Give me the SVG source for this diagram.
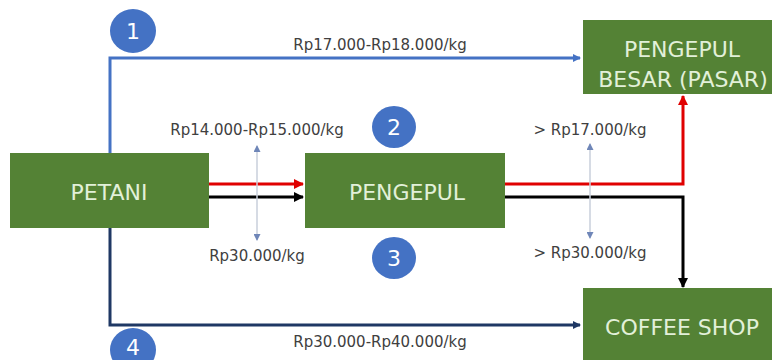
<svg xmlns="http://www.w3.org/2000/svg" width="772" height="360" viewBox="0 0 772 360">
<defs>
<style>
.box{fill:#548235}
.nt{font-family:"DejaVu Sans",Verdana,sans-serif;font-size:22px;fill:#e2f0d9;text-anchor:middle}
.lb{font-family:"DejaVu Sans",Verdana,sans-serif;font-size:15px;fill:#404040;text-anchor:middle}
.num{fill:#4472c4}
.nn{font-family:"DejaVu Sans",Verdana,sans-serif;font-size:22px;fill:#ffffff;text-anchor:middle}
.ln{fill:none;stroke-width:3}
</style>
<marker id="mb" markerWidth="8" markerHeight="8" refX="7" refY="4" orient="auto" markerUnits="userSpaceOnUse"><path d="M0,0 L8,4 L0,8 Z" fill="#4472c4"/></marker>
<marker id="mn" markerWidth="8" markerHeight="8" refX="7" refY="4" orient="auto" markerUnits="userSpaceOnUse"><path d="M0,0 L8,4 L0,8 Z" fill="#1f3864"/></marker>
<marker id="mr" markerWidth="10" markerHeight="10" refX="9" refY="5" orient="auto" markerUnits="userSpaceOnUse"><path d="M0,0 L10,5 L0,10 Z" fill="#e00000"/></marker>
<marker id="mk" markerWidth="10" markerHeight="10" refX="9" refY="5" orient="auto" markerUnits="userSpaceOnUse"><path d="M0,0 L10,5 L0,10 Z" fill="#000000"/></marker>
<marker id="ms" markerWidth="7" markerHeight="7" refX="6" refY="3.5" orient="auto-start-reverse" markerUnits="userSpaceOnUse"><path d="M0,0 L7,3.5 L0,7 Z" fill="#6f86b8"/></marker>
</defs>
<rect width="772" height="360" fill="#ffffff"/>
<g id="connectors">
<path class="ln" d="M110,153 V58 H580" stroke="#4472c4" marker-end="url(#mb)"/>
<path class="ln" d="M110,228 V325 H580" stroke="#1f3864" marker-end="url(#mn)"/>
<path class="ln" d="M209,184 H303" stroke="#e00000" marker-end="url(#mr)"/>
<path class="ln" d="M209,197 H303" stroke="#000000" marker-end="url(#mk)"/>
<path class="ln" d="M505,184 H683 V96" stroke="#e00000" marker-end="url(#mr)"/>
<path class="ln" d="M505,197 H683 V287" stroke="#000000" marker-end="url(#mk)"/>
<path d="M257,146 V240" stroke="#c9cfdb" stroke-width="1.5" fill="none" marker-start="url(#ms)" marker-end="url(#ms)"/>
<path d="M590,144 V238" stroke="#c9cfdb" stroke-width="1.5" fill="none" marker-start="url(#ms)" marker-end="url(#ms)"/>
</g>
<g id="labels">
<text class="lb" x="380" y="50">Rp17.000-Rp18.000/kg</text>
<text class="lb" x="257" y="135">Rp14.000-Rp15.000/kg</text>
<text class="lb" x="257" y="261">Rp30.000/kg</text>
<text class="lb" x="590" y="135">&gt; Rp17.000/kg</text>
<text class="lb" x="590" y="258">&gt; Rp30.000/kg</text>
<text class="lb" x="380" y="347">Rp30.000-Rp40.000/kg</text>
</g>
<g id="petani"><rect class="box" x="10" y="153" width="199" height="75"/><text class="nt" x="109" y="200">PETANI</text></g>
<g id="pengepul"><rect class="box" x="305" y="153" width="200" height="75"/><text class="nt" x="407" y="200">PENGEPUL</text></g>
<g id="pengepul-besar"><rect class="box" x="583" y="20" width="189" height="74"/><text class="nt" x="682" y="57">PENGEPUL</text><text class="nt" x="683" y="87">BESAR (PASAR)</text></g>
<g id="coffee-shop"><rect class="box" x="583" y="288" width="189" height="75"/><text class="nt" x="682" y="335">COFFEE SHOP</text></g>
<g id="n1"><ellipse class="num" cx="133" cy="31" rx="23" ry="22"/><text class="nn" x="133" y="39">1</text></g>
<g id="n2"><ellipse class="num" cx="394" cy="127" rx="22" ry="21"/><text class="nn" x="394" y="135">2</text></g>
<g id="n3"><ellipse class="num" cx="394" cy="258" rx="22" ry="21"/><text class="nn" x="394" y="266">3</text></g>
<g id="n4"><ellipse class="num" cx="133" cy="350" rx="23" ry="22"/><text class="nn" x="133" y="355" font-size="18">4</text></g>
</svg>
